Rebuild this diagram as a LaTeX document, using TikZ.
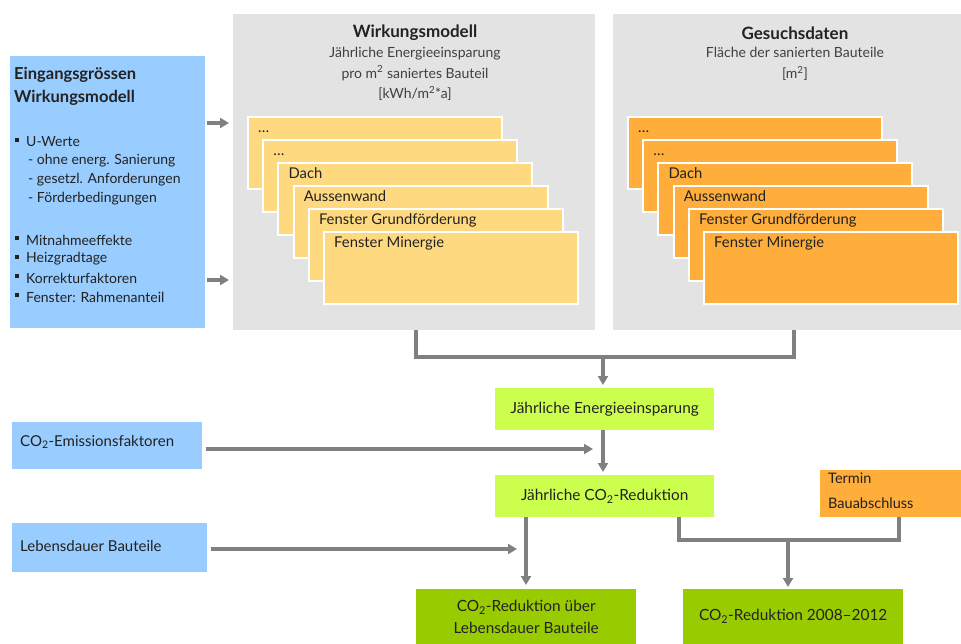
\documentclass[tikz,border=0pt]{standalone}
\usepackage{fontspec}
\setmainfont{Lato}
\usetikzlibrary{arrows.meta}
\definecolor{cblue}{HTML}{99CCFF}
\definecolor{cpanel}{HTML}{E3E3E3}
\definecolor{cyel}{HTML}{FFD980}
\definecolor{corange}{HTML}{FFAD3B}
\definecolor{clime}{HTML}{CCFF4D}
\definecolor{cgreen}{HTML}{99CC00}
\definecolor{cline}{HTML}{808080}
\definecolor{ctext}{HTML}{222222}
\definecolor{csub}{HTML}{404040}
\begin{document}
\begin{tikzpicture}[x=1pt,y=-1pt,
  every node/.style={text=ctext, inner sep=0pt},
  conn/.style={draw=cline, line width=3.2pt},
  arr/.style={conn, -{Triangle[length=9pt,width=10pt]}},
  boxnw/.style={rectangle, anchor=north west, inner sep=0pt},
  card/.style={rectangle, draw=white, line width=2pt, minimum width=254pt, minimum height=72pt, anchor=north west},
  cardtext/.style={anchor=base west, font=\fontsize{14.8}{17}\selectfont},
  boxtext/.style={font=\fontsize{15.4}{22}\selectfont, align=center},
  inputtext/.style={anchor=west, font=\fontsize{15}{17}\selectfont},
  listtext/.style={anchor=west, font=\fontsize{14}{15}\selectfont},
  title/.style={font=\bfseries\fontsize{17}{20}\selectfont},
  subtitle/.style={text=csub, align=center, font=\fontsize{14}{20.5}\selectfont}
]
\useasboundingbox (0,0) rectangle (961,644);

% gray panels
\node[boxnw, fill=cpanel, minimum width=362pt, minimum height=316pt] (wp) at (233,14) {};
\node[boxnw, fill=cpanel, minimum width=348pt, minimum height=316pt] (gp) at (613,14) {};

\node[title] (wpt) at (415,33) {Wirkungsmodell};
\node[subtitle] (wps) at (415,74) {Jährliche Energieeinsparung\\pro m\textsuperscript{2} saniertes Bauteil\\{[kWh/m\textsuperscript{2}*a]}};
\node[title] (gpt) at (795,33) {Gesuchsdaten};
\node[subtitle] (gps) at (795,64) {Fläche der sanierten Bauteile\\{[m\textsuperscript{2}]}};

% cards
\foreach \i/\t in {0/{\dots},1/{\dots},2/Dach,3/Aussenwand,4/Fenster Grundförderung,5/Fenster Minergie}{
  \node[card, fill=cyel] (wc\i) at ({247+15.2*\i},{116+23*\i}) {};
  \node[cardtext] (wct\i) at ([shift={(11pt,-17pt)}]wc\i.north west) {\t};
  \node[card, fill=corange] (gc\i) at ({627+15.2*\i},{116+23*\i}) {};
  \node[cardtext] (gct\i) at ([shift={(11pt,-17pt)}]gc\i.north west) {\t};
}

% left input box
\node[boxnw, fill=cblue, minimum width=195pt, minimum height=272pt] (inp) at (10,56) {};
\node[anchor=west, align=left, font=\bfseries\fontsize{16.5}{23}\selectfont] (inpt) at (14,86.5) {Eingangsgrössen\\Wirkungsmodell};
\foreach \y/\x/\t/\b in {142/26/U-Werte/1, 161/28/{- ohne energ. Sanierung}/0, 180/28/{- gesetzl. Anforderungen}/0, 199/28/{- Förderbedingungen}/0, 240/26/Mitnahmeeffekte/1, 259/26/Heizgradtage/1, 278/26/Korrekturfaktoren/1, 297/26/Fenster: Rahmenanteil/1}{
  \node[listtext] (li\y) at (\x,\y) {\t};
  \ifnum\b=1 \fill[ctext] (15,{\y-4}) rectangle (19,\y); \fi
}

\draw[arr, shorten <=2pt, shorten >=4pt] (inp.east |- 0,123) -- (wp.west |- 0,123);
\draw[arr, shorten <=2pt, shorten >=4pt] (inp.east |- 0,280) -- (wp.west |- 0,280);

% other inputs
\node[boxnw, fill=cblue, minimum width=190pt, minimum height=47pt] (co2e) at (12,422) {};
\node[inputtext] (co2et) at (20,442) {CO\textsubscript{2}-Emissionsfaktoren};
\node[boxnw, fill=cblue, minimum width=195pt, minimum height=49pt] (leb) at (12,523) {};
\node[inputtext] (lebt) at (20,546) {Lebensdauer Bauteile};

% green boxes
\node[boxnw, fill=clime, minimum width=219pt, minimum height=42pt] (e1) at (495,388) {};
\node[boxtext] (e1t) at (e1.center) {Jährliche Energieeinsparung};
\node[boxnw, fill=clime, minimum width=219pt, minimum height=42pt] (e2) at (495,475) {};
\node[boxtext] (e2t) at (e2.center) {Jährliche CO\textsubscript{2}-Reduktion};
\node[boxnw, fill=corange, minimum width=141pt, minimum height=47pt] (term) at (820,470) {};
\node[anchor=west, align=left, font=\fontsize{14.5}{25}\selectfont] (termt) at (828,490.5) {Termin\\Bauabschluss};
\node[boxnw, fill=cgreen, minimum width=220pt, minimum height=55pt] (lb) at (416,589) {};
\node[boxtext] (lbt) at (lb.center) {CO\textsubscript{2}-Reduktion über\\Lebensdauer Bauteile};
\node[boxnw, fill=cgreen, minimum width=220pt, minimum height=55pt] (rr) at (683,589) {};
\node[boxtext] (rrt) at (rr.center) {CO\textsubscript{2}-Reduktion 2008--2012};

% connectors
\coordinate (j1) at (416,357);
\coordinate (j2) at (794,357);
\coordinate (jm) at (603,357);
\draw[conn] (wp.south -| j1) -- (j1) -- (j2) -- (gp.south -| j2);
\draw[arr, shorten >=3pt] (jm) -- (jm |- e1.north);
\draw[arr, shorten >=3pt] (jm |- e1.south) -- (jm |- e2.north);
\coordinate (t1) at (593,449);
\draw[arr, shorten <=4pt] (co2e.east |- t1) -- (t1);
\coordinate (t2) at (517,549);
\draw[arr, shorten <=4pt] (leb.east |- t2) -- (t2);
\coordinate (v1) at (526,0);
\draw[arr, shorten >=4pt] (v1 |- e2.south) -- (v1 |- lb.north);
\coordinate (k1) at (679,540);
\coordinate (k2) at (899,540);
\coordinate (k3) at (788,540);
\draw[conn] (k1 |- e2.south) -- (k1) -- (k2) -- (k2 |- term.south);
\draw[arr, shorten >=2pt] (k3) -- (k3 |- rr.north);
\end{tikzpicture}
\end{document}
